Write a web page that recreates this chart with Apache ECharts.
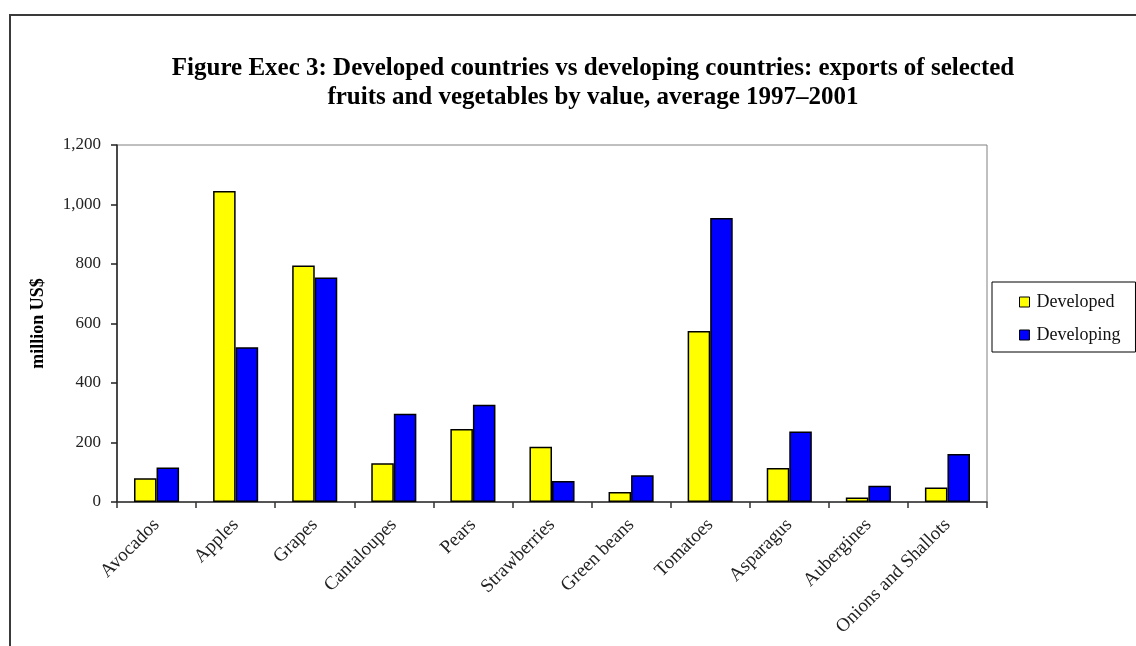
<!DOCTYPE html>
<html>
<head>
<meta charset="utf-8">
<script src="https://cdn.jsdelivr.net/npm/echarts@6/dist/echarts.min.js"></script>
<style>
  html, body { margin: 0; padding: 0; background: #fff; }
  #chart { width: 1136px; height: 646px; }
</style>
</head>
<body>
<div id="chart"></div>
<script>
// Export values, million US$, average 1997–2001
const categories = ['Avocados', 'Apples', 'Grapes', 'Cantaloupes', 'Pears', 'Strawberries',
  'Green beans', 'Tomatoes', 'Asparagus', 'Aubergines', 'Onions and Shallots'];
const developed = [80, 1045, 795, 130, 245, 186, 34, 575, 114, 15, 49];
const developing = [116, 520, 755, 297, 327, 71, 90, 955, 237, 55, 161];
const yTicks = [0, 200, 400, 600, 800, 1000, 1200];

const SERIF = '"Liberation Serif", "DejaVu Serif", serif';
const chart = echarts.init(document.getElementById('chart'), null, { renderer: 'canvas' });

const barStyle = (color) => ({ color: color, borderColor: '#000', borderWidth: 1.5 });

chart.setOption({
  animation: false,
  backgroundColor: '#fff',
  graphic: [
    {
      type: 'rect',
      shape: { x: 10, y: 15, width: 1200, height: 700 },
      style: { fill: 'none', stroke: '#3a3a3a', lineWidth: 2 },
      silent: true
    },
    {
      type: 'text',
      x: 593,
      y: 54,
      style: {
        text: 'Figure Exec 3: Developed countries vs developing countries: exports of selected\nfruits and vegetables by value, average 1997–2001',
        font: 'bold 25px ' + SERIF,
        fill: '#000',
        textAlign: 'center',
        lineHeight: 29
      }
    }
  ],
  legend: {
    orient: 'vertical',
    left: 992,
    top: 282,
    padding: [11, 15, 8, 27],
    itemGap: 15,
    itemWidth: 10,
    itemHeight: 10,
    icon: 'rect',
    borderColor: '#000',
    borderWidth: 1,
    itemStyle: { borderColor: '#000', borderWidth: 1 },
    textStyle: { fontFamily: SERIF, fontSize: 18, color: '#111', padding: [0, 0, 0, 2] },
    data: ['Developed', 'Developing']
  },
  grid: {
    left: 117,
    top: 145,
    right: 149,
    bottom: 144,
    show: true,
    borderColor: '#808080',
    borderWidth: 1
  },
  xAxis: {
    type: 'category',
    data: categories,
    boundaryGap: true,
    axisLine: { show: true, lineStyle: { color: '#333', width: 1.5 } },
    axisTick: { show: true, alignWithLabel: false, inside: false, length: 6, lineStyle: { color: '#333', width: 1.5 } },
    axisLabel: {
      interval: 0,
      rotate: 45,
      margin: 20,
      fontFamily: SERIF,
      fontSize: 19,
      color: '#222'
    },
    splitLine: { show: false }
  },
  yAxis: {
    type: 'value',
    min: 0,
    max: yTicks[yTicks.length - 1],
    interval: yTicks[1] - yTicks[0],
    name: 'million US$',
    nameLocation: 'middle',
    nameRotate: 90,
    nameGap: 70,
    nameTextStyle: { fontFamily: SERIF, fontSize: 18, fontWeight: 'bold', color: '#000' },
    axisLine: { show: true, lineStyle: { color: '#222', width: 1.5 } },
    axisTick: { show: true, inside: false, length: 6, lineStyle: { color: '#222', width: 1.5 } },
    axisLabel: {
      margin: 16,
      fontFamily: SERIF,
      fontSize: 17,
      color: '#222',
      formatter: (v) => v.toLocaleString('en-US')
    },
    splitLine: { show: false }
  },
  series: [
    {
      name: 'Developed',
      type: 'bar',
      data: developed,
      barGap: '0%',
      barCategoryGap: '43%',
      itemStyle: barStyle('#ffff00')
    },
    {
      name: 'Developing',
      type: 'bar',
      data: developing,
      barGap: '0%',
      barCategoryGap: '43%',
      itemStyle: barStyle('#0000ff')
    }
  ]
});
</script>
</body>
</html>
